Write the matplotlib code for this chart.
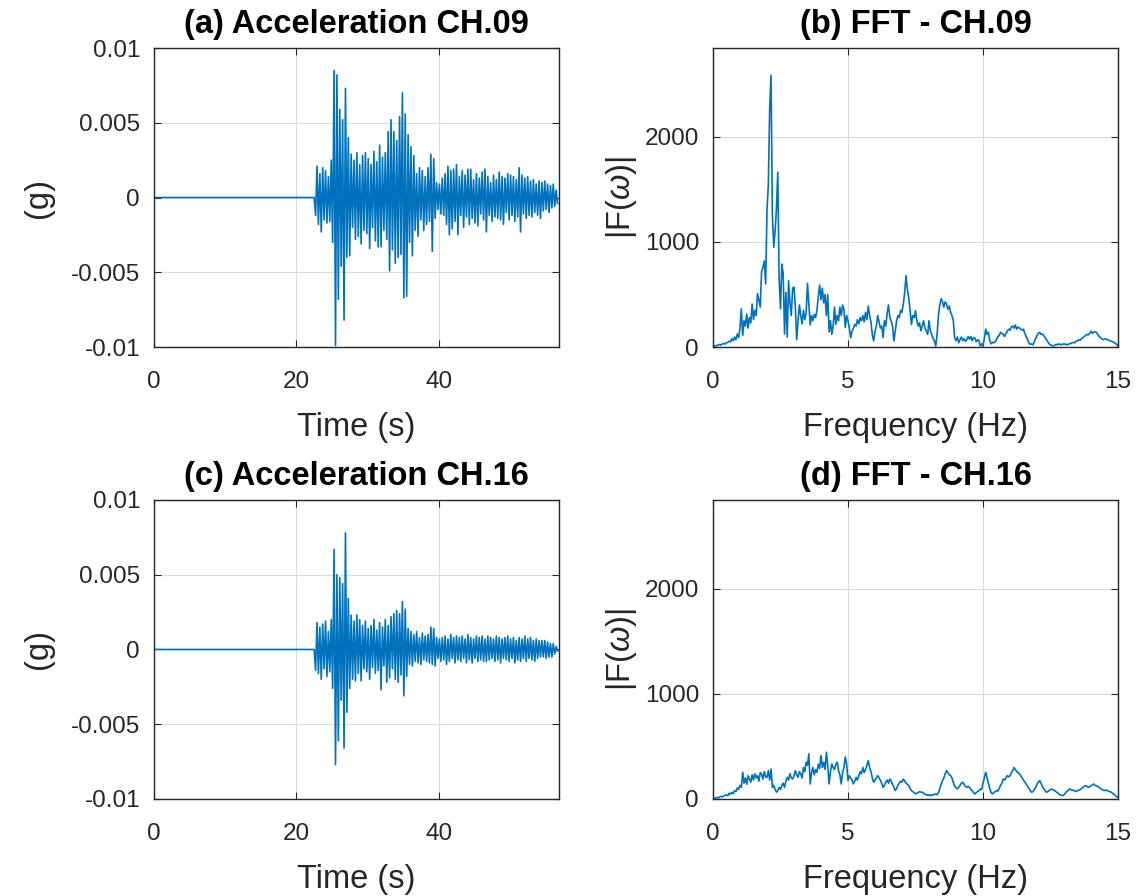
import numpy as np
import matplotlib
matplotlib.use('Agg')
import matplotlib.pyplot as plt

plt.rcParams['font.family'] = ['Liberation Sans', 'DejaVu Sans']
plt.rcParams['mathtext.fontset'] = 'custom'
plt.rcParams['mathtext.it'] = 'Liberation Sans:italic'
plt.rcParams['mathtext.rm'] = 'Liberation Sans'

LINE = '#0072BD'
DARK = '#262626'

# acceleration, alternating peaks every 0.2 s from the onset (units: 1e-3 g)
acc_t0 = 22.5
acc_dt = 0.2
acc_tmax = 56.9

acc09 = [
    0.0, -1.2, 2.1, -1.8, 1.6, -2.3, 2.0, -1.5, 1.8, -1.7,
    1.4, -1.6, 2.5, -3.0, 8.5, -9.9, 8.2, -6.8, 5.9, -4.6,
    5.2, -8.2, 7.3, -4.0, 4.0, -3.9, 2.9, -2.0, 2.5, -2.8,
    3.0, -2.6, 2.2, -3.1, 2.8, -2.2, 3.0, -2.4, 2.6, -3.4,
    2.2, -2.0, 3.1, -2.9, 2.4, -3.3, 3.5, -3.3, 2.7, -2.2,
    3.0, -2.8, 4.4, -4.9, 5.2, -3.5, 4.4, -4.4, 3.8, -4.0,
    5.4, -3.8, 7.0, -6.7, 5.6, -6.6, 4.2, -3.0, 3.4, -3.9,
    2.8, -2.2, 1.6, -2.6, 2.0, -1.5, 1.8, -2.2, 1.4, -1.8,
    2.0, -1.6, 2.9, -3.6, 2.6, -1.4, 1.0, -0.8, 0.9, -1.1,
    1.3, -1.2, 1.6, -1.8, 2.1, -2.5, 1.8, -2.1, 1.9, -1.6,
    2.2, -2.5, 1.4, -1.2, 1.8, -2.0, 1.5, -1.3, 1.9, -1.8,
    1.9, -1.4, 1.2, -1.7, 1.6, -1.9, 1.3, -1.1, 1.7, -1.5,
    1.9, -2.3, 1.4, -1.2, 1.0, -1.6, 1.5, -1.3, 1.2, -1.4,
    1.7, -1.5, 1.4, -1.8, 1.3, -1.0, 1.6, -1.5, 1.5, -1.2,
    1.4, -1.6, 1.2, -1.3, 2.0, -2.3, 1.5, -1.1, 1.3, -1.4,
    1.4, -1.2, 1.1, -1.3, 1.2, -1.0, 0.9, -1.2, 1.1, -1.4,
    1.0, -0.9, 1.1, -0.8, 0.9, -1.0, 0.8, -0.7, 0.9, -0.6,
    0.5, -0.4,
]

acc16 = [
    0.0, -1.4, 1.8, -1.6, 1.5, -2.0, 1.7, -1.3, 1.9, -1.8,
    1.2, -1.5, 2.0, -2.6, 6.7, -7.7, 5.0, -6.1, 4.8, -3.4,
    4.4, -6.6, 7.8, -4.2, 3.4, -2.6, 2.3, -2.0, 1.9, -2.1,
    2.3, -1.6, 2.0, -2.1, 1.6, -1.3, 1.9, -1.5, 1.4, -2.0,
    1.6, -1.2, 2.0, -1.6, 1.3, -1.4, 1.8, -2.7, 1.5, -1.1,
    2.0, -2.2, 1.6, -1.9, 2.2, -1.3, 2.4, -2.0, 2.6, -2.2,
    2.4, -1.7, 3.2, -3.1, 2.7, -1.8, 1.4, -1.0, 1.2, -1.1,
    1.0, -0.8, 1.2, -0.9, 0.8, -1.0, 1.1, -0.7, 0.9, -0.8,
    1.0, -0.9, 1.5, -1.0, 1.4, -1.1, 0.8, -0.6, 0.7, -0.8,
    0.8, -0.7, 0.9, -1.0, 0.7, -0.8, 1.0, -0.6, 0.8, -0.9,
    0.9, -0.7, 0.8, -0.8, 0.9, -0.6, 0.7, -0.9, 1.0, -0.7,
    0.8, -0.9, 0.7, -0.6, 0.9, -0.8, 0.8, -0.7, 0.9, -0.8,
    0.7, -0.8, 0.9, -0.7, 0.8, -0.6, 0.7, -0.8, 0.9, -0.7,
    0.8, -0.9, 0.7, -0.6, 0.8, -0.7, 0.9, -0.8, 0.7, -0.6,
    0.8, -0.9, 0.6, -0.7, 0.8, -0.8, 0.7, -0.6, 0.9, -0.8,
    0.7, -0.6, 0.8, -0.7, 0.6, -0.8, 0.7, -0.6, 0.6, -0.5,
    0.6, -0.5, 0.6, -0.6, 0.5, -0.5, 0.4, -0.5, 0.4, -0.3,
    0.2, -0.1,
]

# FFT amplitude, 0.05 Hz steps from 0 to 15 Hz
fft_df = 0.05
fft09 = [
    0, 8, 15, 12, 20, 25, 18, 30, 35, 28, 40, 45, 55, 48, 80, 60, 95, 70, 124, 90,
    180, 363, 110, 250, 200, 315, 180, 280, 230, 410, 260, 350, 300, 510, 445, 380, 720, 760, 820, 600,
    1300, 1554, 2270, 2588, 1250, 950, 1100, 1315, 1665, 650, 363, 790, 697, 124, 520, 95, 630, 420, 300, 560,
    570, 380, 70, 250, 400, 300, 220, 350, 260, 330, 605, 400, 210, 300, 250, 310, 280, 350, 480, 590,
    450, 560, 420, 500, 300, 500, 145, 250, 120, 200, 380, 215, 300, 250, 380, 300, 400, 360, 185, 300,
    250, 180, 89, 150, 180, 215, 200, 260, 220, 280, 250, 300, 240, 330, 260, 390, 300, 240, 120, 58,
    150, 200, 300, 240, 180, 200, 89, 250, 200, 320, 400, 280, 250, 200, 58, 150, 250, 300, 280, 350,
    330, 410, 520, 678, 550, 470, 350, 215, 300, 280, 345, 250, 200, 230, 155, 200, 250, 180, 150, 120,
    250, 150, 120, 80, 60, 10, 120, 300, 400, 460, 430, 380, 430, 410, 360, 390, 330, 300, 250, 90,
    60, 95, 40, 70, 95, 60, 80, 55, 70, 100, 75, 100, 60, 90, 85, 50, 70, 60, 10, 30,
    10, 80, 170, 120, 140, 60, 30, 45, 40, 50, 70, 100, 110, 140, 130, 120, 100, 130, 150, 170,
    160, 190, 200, 180, 210, 170, 190, 180, 170, 160, 170, 130, 100, 70, 40, 25, 30, 20, 50, 80,
    110, 130, 140, 120, 125, 110, 90, 70, 50, 30, 20, 15, 10, 15, 25, 20, 30, 25, 20, 30,
    25, 30, 20, 25, 30, 35, 40, 45, 40, 55, 60, 70, 65, 80, 90, 100, 110, 120, 115, 130,
    150, 130, 140, 145, 140, 120, 100, 90, 80, 70, 75, 80, 70, 65, 60, 55, 50, 45, 35, 25,
    10,
]

fft16 = [
    0, 5, 10, 15, 10, 20, 25, 20, 30, 35, 40, 30, 55, 45, 64, 50, 80, 70, 105, 90,
    130, 110, 254, 150, 200, 140, 220, 190, 160, 230, 180, 240, 200, 222, 170, 250, 238, 190, 260, 210,
    206, 270, 180, 285, 110, 130, 90, 64, 80, 110, 90, 130, 150, 110, 170, 206, 180, 240, 200, 190,
    220, 270, 230, 206, 260, 240, 200, 300, 260, 350, 320, 430, 143, 250, 300, 230, 280, 254, 330, 290,
    413, 300, 350, 280, 445, 320, 143, 260, 333, 300, 280, 330, 350, 270, 230, 143, 250, 300, 400, 330,
    175, 220, 200, 180, 143, 170, 206, 180, 220, 260, 240, 300, 250, 280, 320, 365, 300, 260, 200, 159,
    180, 200, 222, 200, 180, 150, 110, 130, 160, 180, 150, 190, 170, 140, 110, 80, 100, 130, 150, 170,
    160, 190, 170, 150, 140, 127, 100, 80, 70, 60, 48, 55, 60, 70, 65, 64, 55, 45, 40, 35,
    40, 32, 40, 35, 45, 48, 40, 60, 100, 140, 175, 200, 240, 270, 250, 230, 222, 200, 160, 120,
    110, 95, 110, 130, 150, 159, 140, 120, 110, 120, 110, 90, 80, 60, 48, 60, 70, 80, 95, 90,
    150, 200, 254, 200, 150, 100, 60, 48, 60, 70, 80, 75, 100, 130, 150, 190, 180, 200, 222, 210,
    222, 250, 270, 300, 280, 260, 250, 238, 220, 200, 180, 160, 143, 120, 100, 80, 64, 70, 90, 110,
    140, 160, 175, 150, 120, 100, 80, 64, 70, 80, 90, 95, 85, 80, 70, 60, 50, 40, 35, 32,
    40, 55, 70, 80, 95, 90, 80, 85, 75, 70, 80, 85, 90, 100, 110, 120, 127, 120, 110, 115,
    125, 135, 143, 130, 125, 120, 110, 100, 90, 85, 80, 85, 80, 75, 70, 64, 55, 45, 35, 20,
    16,
]

titles = ['(a) Acceleration CH.09', '(b) FFT - CH.09',
          '(c) Acceleration CH.16', '(d) FFT - CH.16']


def style_axes(ax):
    ax.grid(True, color='#dcdcdc', linewidth=0.8)
    ax.set_axisbelow(True)
    for s in ax.spines.values():
        s.set_color(DARK)
        s.set_linewidth(1.0)
    ax.tick_params(direction='in', top=True, right=True, length=5,
                   labelsize=17.5, colors=DARK)
    ax.tick_params(axis='x', pad=17)
    ax.tick_params(axis='y', pad=10)


def acc_series(vals):
    t = acc_t0 + acc_dt * np.arange(len(vals))
    t = np.concatenate([[0.0], t])
    v = np.concatenate([[0.0], np.array(vals) * 1e-3])
    return t, v


fig = plt.figure(figsize=(11.45, 8.96), dpi=100)

pos = {
    'a': [0.1345, 0.6127, 0.3537, 0.3337],
    'b': [0.6227, 0.6127, 0.3537, 0.3337],
    'c': [0.1345, 0.1083, 0.3537, 0.3337],
    'd': [0.6227, 0.1083, 0.3537, 0.3337],
}

fft_top = 1.1 * max(max(fft09), max(fft16))

for key, acc, fft, ti in [('a', acc09, fft09, 0), ('c', acc16, fft16, 2)]:
    ax = fig.add_axes(pos[key])
    t, v = acc_series(acc)
    ax.plot(t, v, color=LINE, linewidth=1.2)
    ax.set_xlim(0, acc_tmax)
    ax.set_ylim(-0.01, 0.01)
    ax.set_xticks([0, 20, 40])
    ax.set_yticks([-0.01, -0.005, 0, 0.005, 0.01])
    ax.set_yticklabels(['-0.01', '-0.005', '0', '0.005', '0.01'])
    ax.set_xlabel('Time (s)', fontsize=23.5, color=DARK, labelpad=14)
    ax.set_ylabel('(g)', fontsize=23.5, color=DARK, labelpad=12)
    ax.set_title(titles[ti], fontsize=23.5, fontweight='bold', pad=11)
    style_axes(ax)

    key2 = 'b' if key == 'a' else 'd'
    ax2 = fig.add_axes(pos[key2])
    f = fft_df * np.arange(len(fft))
    ax2.plot(f, fft, color=LINE, linewidth=1.2)
    ax2.set_xlim(0, 15)
    ax2.set_ylim(0, fft_top)
    ax2.set_xticks([0, 5, 10, 15])
    ax2.set_yticks([0, 1000, 2000])
    ax2.set_xlabel('Frequency (Hz)', fontsize=23.5, color=DARK, labelpad=14)
    ax2.set_ylabel(r'|F($\omega$)|', fontsize=23.5, color=DARK, labelpad=4)
    ax2.set_title(titles[ti + 1], fontsize=23.5, fontweight='bold', pad=11)
    style_axes(ax2)

fig.savefig('out.png', dpi=100)
